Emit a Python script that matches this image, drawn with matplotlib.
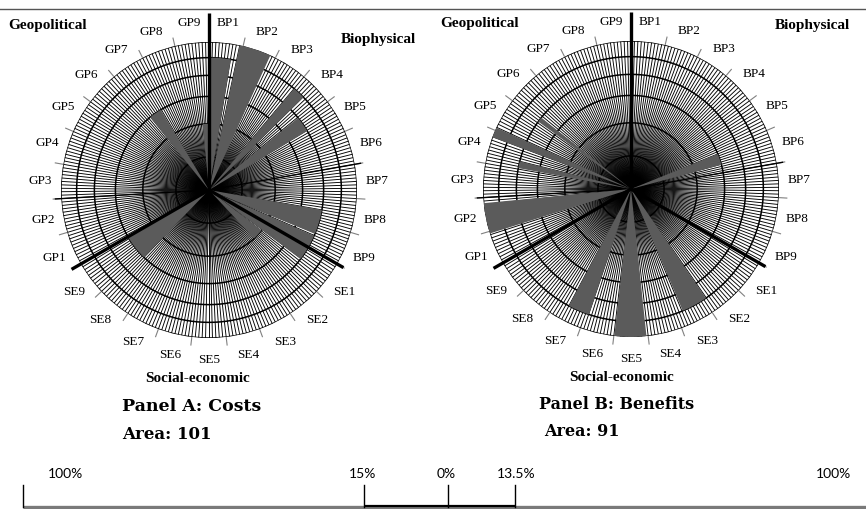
import numpy as np
import matplotlib
matplotlib.use('Agg')
import matplotlib.pyplot as plt

# categories: 9 items in each of the three dimensions, clockwise from the top
groups = ['BP', 'SE', 'GP']
categories = [g + str(i) for g in groups for i in range(1, 10)]

# wedges: start angle and angular width (degrees, clockwise
# from 12 o'clock) and the score (radius is drawn on a square-root scale)
cost_start = [0, 12, 40, 51, 100, 113.5, 127.5, 224, 321, 354.5]
cost_width = [9.5, 12.5, 5.5, 8, 12.5, 13.5, 9.5, 16, 8, 5.5]
cost_score = [0.8, 1.0, 0.8, 0.6, 0.6, 0.6, 0.2, 0.4, 0.4, 0.2]

benefit_start = [68, 145.5, 174, 198.5, 252.5, 280.5, 290.5, 306]
benefit_width = [7, 11.5, 12.5, 9.5, 12, 3.5, 4, 2.5]
benefit_score = [0.4, 0.8, 1.0, 0.8, 1.0, 0.6, 1.0, 0.6]

ring_levels = [0.05, 0.2, 0.4, 0.6, 0.8, 1.0]
panel_titles = ['Panel A: Costs', 'Panel B: Benefits']
panel_areas = [101, 91]
scale_labels = ['100%', '15%', '0%', '13.5%', '100%']

W, H = 866, 510
fig = plt.figure(figsize=(W / 100, H / 100), dpi=100)
fig.patch.set_facecolor('white')

# overlay in pixel coordinates for headings and the bottom scale
ov = fig.add_axes([0, 0, 1, 1])
ov.set_xlim(0, W)
ov.set_ylim(H, 0)
ov.axis('off')
ov.patch.set_alpha(0)

serif = 'Liberation Serif'


def draw_panel(cx, cy, R, start, width, score):
    ax = fig.add_axes([(cx - R) / W, 1 - (cy + R) / H, 2 * R / W, 2 * R / H],
                      projection='polar')
    ax.set_theta_zero_location('N')
    ax.set_theta_direction(-1)
    ax.set_rscale('function', functions=(lambda r: np.sqrt(np.clip(r, 0, None)),
                                         lambda r: np.square(r)))
    ax.set_rlim(0, 1)
    ax.grid(False)
    ax.set_xticks([])
    ax.set_yticks([])
    ax.spines['polar'].set_visible(False)

    # fine radial grid: 10 lines per category
    fine = np.deg2rad(np.arange(270) * 360 / 270)
    ax.vlines(fine, 0, 1, color='black', lw=0.65, zorder=1)
    th = np.linspace(0, 2 * np.pi, 721)
    for lv in ring_levels:
        ax.plot(th, np.full_like(th, lv), color='black', lw=1.1, zorder=2)

    # category boundary ticks outside the circle
    bnd = np.deg2rad(np.arange(27) * 360 / 27)
    ax.vlines(bnd, 1.0, 1.12, color='#808080', lw=0.8, clip_on=False)
    for a in [80, 800 / 3]:
        ax.plot([np.deg2rad(a)] * 2, [0, 1.08], color='black', lw=1.0,
                zorder=2, clip_on=False)

    ax.bar(np.deg2rad(start), score, width=np.deg2rad(width), align='edge',
           bottom=0, color='#5b5b5b', linewidth=0, zorder=3)

    # thick lines between the three dimensions
    for a, ext in zip([0, 120, 240], [1.43, 1.10, 1.15]):
        ax.plot([np.deg2rad(a)] * 2, [0, ext], color='black', lw=2.4,
                solid_capstyle='butt', zorder=6, clip_on=False)

    for i, name in enumerate(categories):
        ang = np.deg2rad((i + 0.5) * 360 / 27)
        ax.text(ang, 1.30, name, ha='center', va='center', fontsize=9.5,
                family=serif)
    return ax


draw_panel(209, 191, 148, cost_start, cost_width, cost_score)
draw_panel(631, 190, 148, benefit_start, benefit_width, benefit_score)

# dimension headings
hd = dict(fontsize=11, fontweight='bold', family=serif, va='center')
ov.text(8, 25, 'Geopolitical', ha='left', **hd)
ov.text(378, 39, 'Biophysical', ha='center', **hd)
ov.text(198, 379, 'Social-economic', ha='center', **hd)
ov.text(440, 23, 'Geopolitical', ha='left', **hd)
ov.text(850, 25, 'Biophysical', ha='right', **hd)
ov.text(622, 378, 'Social-economic', ha='center', **hd)

# panel titles
ov.text(122, 407, panel_titles[0], ha='left', va='center', fontsize=12.5,
        fontweight='bold', family='DejaVu Serif')
ov.text(122, 435, 'Area: %d' % panel_areas[0], ha='left', va='center',
        fontsize=12, fontweight='bold', family='DejaVu Serif')
ov.text(539, 405, panel_titles[1], ha='left', va='center', fontsize=11.5,
        fontweight='bold', family='DejaVu Serif')
ov.text(544, 432, 'Area: %d' % panel_areas[1], ha='left', va='center',
        fontsize=11.5, fontweight='bold', family='DejaVu Serif')

# top rule
ov.plot([0, W], [10, 10], color='#555555', lw=1.0)

# bottom scale
tick_x = [23, 364, 448, 515]
label_x = [65, 363, 446, 516, 833]
ov.plot([23, W], [508, 508], color='#7a7a7a', lw=2.4, solid_capstyle='butt')
ov.plot([364, 515], [507, 507], color='black', lw=1.6, solid_capstyle='butt')
for x in tick_x:
    ov.plot([x, x], [486, 508], color='black', lw=1.0)
for x, s in zip(label_x, scale_labels):
    ov.text(x, 474, s, ha='center', va='center', fontsize=10, family='Lato')

fig.savefig('out.png', dpi=100, facecolor='white')
